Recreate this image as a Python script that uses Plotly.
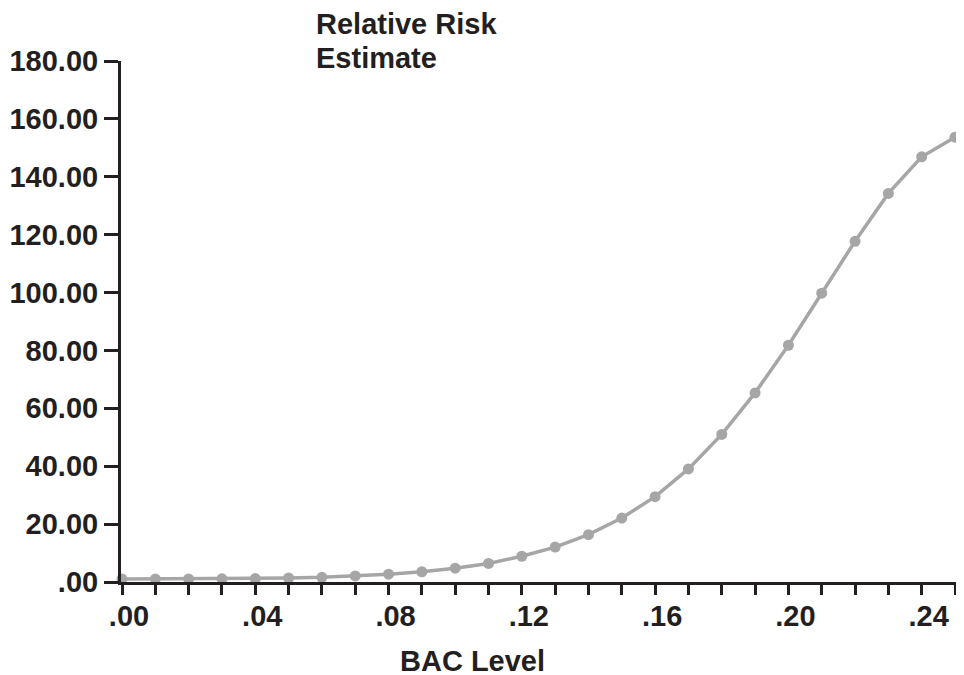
import plotly.graph_objects as go

bac_level = [0.00, 0.01, 0.02, 0.03, 0.04, 0.05, 0.06, 0.07, 0.08, 0.09,
             0.10, 0.11, 0.12, 0.13, 0.14, 0.15, 0.16, 0.17, 0.18, 0.19,
             0.20, 0.21, 0.22, 0.23, 0.24, 0.25]
relative_risk = [1.00, 1.03, 1.06, 1.09, 1.18, 1.38, 1.63, 2.09, 2.69, 3.54,
                 4.79, 6.41, 8.90, 12.06, 16.36, 22.10, 29.48, 39.05, 50.99, 65.32,
                 81.79, 99.78, 117.72, 134.26, 146.90, 153.68]

x_tick_vals = [0.00, 0.04, 0.08, 0.12, 0.16, 0.20, 0.24]
x_tick_text = [".00", ".04", ".08", ".12", ".16", ".20", ".24"]
y_tick_vals = [0, 20, 40, 60, 80, 100, 120, 140, 160, 180]
y_tick_text = [".00", "20.00", "40.00", "60.00", "80.00", "100.00",
               "120.00", "140.00", "160.00", "180.00"]

title_lines = ["Relative Risk", "Estimate"]
x_title = "BAC Level"

ink = "#231F20"
font_family = "Liberation Sans, Arial, sans-serif"
FS = 29

# page offset caused by the default body margin
OFF = 8
W, H = 964 - OFF, 675 - OFF
L = 121 - OFF
T = 61 - OFF
BOT = 582 - OFF
R = 0
B = H - BOT
pw = W - L - R
ph = H - T - B

fig = go.Figure()
fig.add_trace(go.Scatter(
    x=bac_level, y=relative_risk, mode="lines+markers",
    line=dict(color="#A6A6A6", width=3.5),
    marker=dict(color="#A6A6A6", size=11),
    cliponaxis=False, showlegend=False,
))

tick_font = dict(family=font_family, size=FS, color=ink, weight="bold")

fig.update_layout(
    width=W, height=H,
    margin=dict(l=L, r=R, t=T, b=B, autoexpand=False),
    paper_bgcolor="white", plot_bgcolor="white",
    font=dict(family=font_family, color=ink, size=FS),
    xaxis=dict(
        range=[-0.0003, 0.2527],
        tickmode="array", tickvals=x_tick_vals, ticktext=x_tick_text,
        ticks="outside", ticklen=10, tickwidth=3, tickcolor=ink,
        minor=dict(ticks="outside", ticklen=10, tickwidth=3, tickcolor=ink,
                   dtick=0.01, tick0=0, showgrid=False),
        showline=True, linecolor=ink, linewidth=3,
        showgrid=False, zeroline=False,
        ticklabelshift=7, ticklabelstandoff=-4,
        tickfont=tick_font,
    ),
    yaxis=dict(
        range=[0, 180],
        tickmode="array", tickvals=y_tick_vals, ticktext=y_tick_text,
        ticks="outside", ticklen=14, tickwidth=3, tickcolor=ink,
        showline=True, linecolor=ink, linewidth=3,
        showgrid=False, zeroline=False,
        tickfont=tick_font,
    ),
)

title_centers = [24, 58]  # page y of each title line
for line, cy in zip(title_lines, title_centers):
    fig.add_annotation(
        text=line, xref="paper", yref="paper",
        x=(314 - OFF - L) / pw, y=1 + (T - (cy - OFF)) / ph,
        xanchor="left", yanchor="middle", align="left", showarrow=False,
        font=dict(family=font_family, size=FS, color=ink, weight="bold"),
    )
fig.add_annotation(
    text=x_title, xref="paper", yref="paper",
    x=(472 - OFF - L) / pw, y=-((661 - OFF) - BOT) / ph,
    xanchor="center", yanchor="middle", showarrow=False,
    font=dict(family=font_family, size=FS, color=ink, weight="bold"),
)

fig.write_html("out.html")
